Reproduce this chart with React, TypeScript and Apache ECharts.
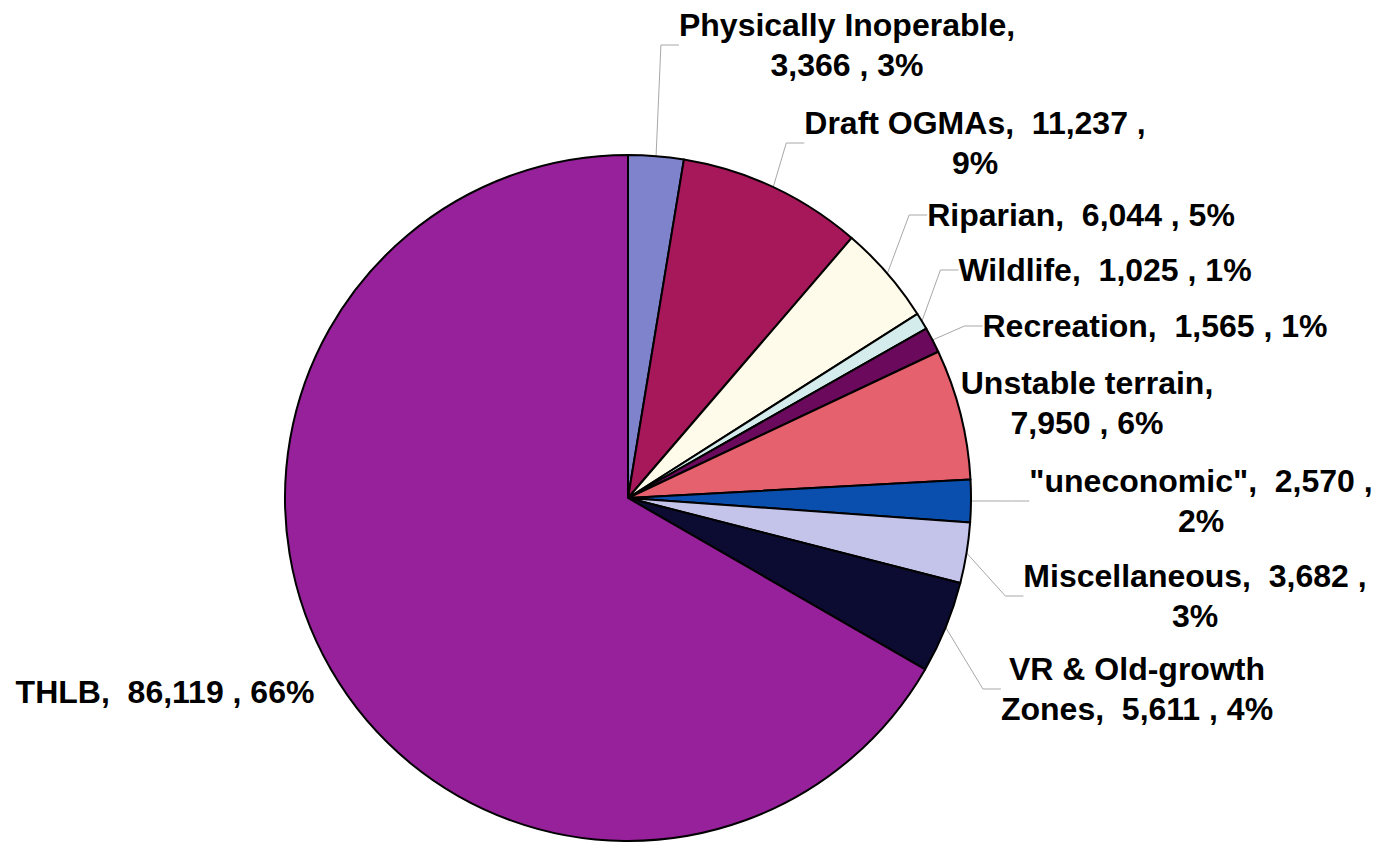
import React, { useEffect, useRef } from "react";
import * as echarts from "echarts";

const categories = [
  "Physically Inoperable",
  "Draft OGMAs",
  "Riparian",
  "Wildlife",
  "Recreation",
  "Unstable terrain",
  "\"uneconomic\"",
  "Miscellaneous",
  "VR & Old-growth Zones",
  "THLB",
];
const values = [3366, 11237, 6044, 1025, 1565, 7950, 2570, 3682, 5611, 86119];
const percents = [3, 9, 5, 1, 1, 6, 2, 3, 4, 66];

// layout / style (not data)
const colors = [
  "#7f83cc",
  "#a6185a",
  "#fffbea",
  "#d4ecec",
  "#6b0a5c",
  "#e6616e",
  "#0b4fae",
  "#c4c4ea",
  "#0c0c33",
  "#96219a",
];
const breaks = ["name", "value", "none", "none", "none", "name", "value", "value", "word", "none"];
const labelCenters: [number, number][] = [
  [847, 45],
  [975, 143],
  [1081, 215],
  [1105, 270],
  [1155, 326],
  [1087, 403],
  [1201, 501],
  [1195, 596],
  [1137, 689],
  [165, 692],
];
const showLine = [true, true, true, true, true, false, true, true, true, false];

function fmt(n: number) {
  return n.toLocaleString("en-US");
}

function labelText(i: number) {
  const name = categories[i];
  const v = fmt(values[i]);
  const p = percents[i] + "%";
  switch (breaks[i]) {
    case "name":
      return `${name},\n${v} , ${p}`;
    case "value":
      return `${name},  ${v} ,\n${p}`;
    case "word": {
      const k = name.lastIndexOf(" ");
      return `${name.slice(0, k)}\n${name.slice(k + 1)},  ${v} , ${p}`;
    }
    default:
      return `${name},  ${v} , ${p}`;
  }
}

export default function App() {
  const ref = useRef<HTMLDivElement>(null);
  useEffect(() => {
    document.body.style.margin = "0";
    const chart = echarts.init(ref.current!, null, { renderer: "svg" });
    chart.setOption({
      animation: false,
      backgroundColor: "#ffffff",
      series: [
        {
          type: "pie",
          center: [628, 498],
          radius: 343,
          startAngle: 90,
          clockwise: true,
          avoidLabelOverlap: false,
          itemStyle: { borderColor: "#000000", borderWidth: 2 },
          label: {
            show: true,
            position: "outside",
            color: "#000000",
            fontFamily: "'Liberation Sans', Arial, sans-serif",
            fontWeight: "bold",
            fontSize: 32,
            lineHeight: 40,
            formatter: (p: any) => labelText(p.dataIndex),
          },
          labelLine: {
            show: true,
            length: 20,
            length2: 18,
            lineStyle: { color: "#a8a8a8", width: 1 },
          },
          labelLayout: (p: any) => ({
            x: labelCenters[p.dataIndex][0],
            y: labelCenters[p.dataIndex][1],
            align: "center",
            verticalAlign: "middle",
          }),
          data: categories.map((c, i) => ({
            name: c,
            value: values[i],
            itemStyle: { color: colors[i] },
            labelLine: { show: showLine[i] },
          })),
        },
      ],
    });
    return () => chart.dispose();
  }, []);
  return <div ref={ref} style={{ width: 1380, height: 848 }} />;
}
